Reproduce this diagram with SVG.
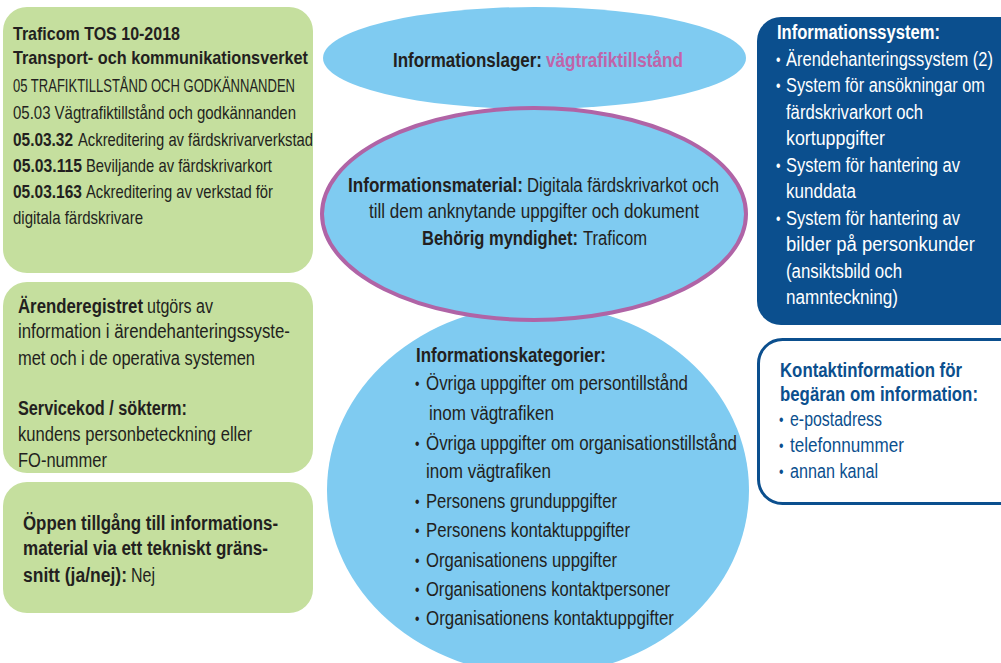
<svg xmlns="http://www.w3.org/2000/svg" width="1001" height="663" viewBox="0 0 1001 663">
<style>
text{font-family:"Liberation Sans",Arial,sans-serif;fill:#231f20}
.s{font-size:18px}
.m{font-size:20px}
.b{font-weight:bold}
.w{fill:#ffffff}
.db{fill:#0b4f8e}
.pk{fill:#c064a9}
.green{fill:#c5df9e}
.blue{fill:#7fcbf1}
.bul{font-size:16px}
</style>
<rect width="1001" height="663" fill="#ffffff"/>
<g id="connectors"></g>

<g id="tos">
<rect class="green" x="3" y="7" width="310" height="266" rx="24"/>
<g transform="scale(0.8 1)">
<text class="s b" x="16.25" y="40" textLength="208.75" lengthAdjust="spacingAndGlyphs">Traficom TOS 10-2018</text>
<text class="s b" x="16.25" y="64" textLength="368.75" lengthAdjust="spacingAndGlyphs">Transport- och kommunikationsverket</text>
<text class="s" x="16.25" y="92" textLength="352.5" lengthAdjust="spacingAndGlyphs">05 TRAFIKTILLSTÅND OCH GODKÄNNANDEN</text>
<text class="s" x="16.25" y="119" textLength="353.75" lengthAdjust="spacingAndGlyphs">05.03 Vägtrafiktillstånd och godkännanden</text>
<text class="s b" x="16.25" y="146" textLength="75" lengthAdjust="spacingAndGlyphs">05.03.32</text>
<text class="s" x="97.5" y="146" textLength="293.75" lengthAdjust="spacingAndGlyphs">Ackreditering av färdskrivarverkstad</text>
<text class="s b" x="16.25" y="172" textLength="86.25" lengthAdjust="spacingAndGlyphs">05.03.115</text>
<text class="s" x="107.5" y="172" textLength="232.5" lengthAdjust="spacingAndGlyphs">Beviljande av färdskrivarkort</text>
<text class="s b" x="16.25" y="198" textLength="86.25" lengthAdjust="spacingAndGlyphs">05.03.163</text>
<text class="s" x="107.5" y="198" textLength="233.75" lengthAdjust="spacingAndGlyphs">Ackreditering av verkstad för</text>
<text class="s" x="16.25" y="224" textLength="162.5" lengthAdjust="spacingAndGlyphs">digitala färdskrivare</text>
</g>
</g>

<g id="arenderegister">
<rect class="green" x="3" y="282" width="310" height="191" rx="24"/>
<g transform="scale(0.8 1)">
<text class="m b" x="22.5" y="313" textLength="156.25" lengthAdjust="spacingAndGlyphs">Ärenderegistret</text>
<text class="m" x="183.75" y="313" textLength="82.5" lengthAdjust="spacingAndGlyphs">utgörs av</text>
<text class="m" x="22.5" y="338" textLength="340" lengthAdjust="spacingAndGlyphs">information i ärendehanteringssyste-</text>
<text class="m" x="22.5" y="365" textLength="296.25" lengthAdjust="spacingAndGlyphs">met och i de operativa systemen</text>
<text class="m b" x="22.5" y="415" textLength="211.25" lengthAdjust="spacingAndGlyphs">Servicekod / sökterm:</text>
<text class="m" x="22.5" y="441" textLength="292.5" lengthAdjust="spacingAndGlyphs">kundens personbeteckning eller</text>
<text class="m" x="22.5" y="467" textLength="111.25" lengthAdjust="spacingAndGlyphs">FO-nummer</text>
</g>
</g>

<g id="oppen">
<rect class="green" x="3" y="482" width="310" height="131" rx="24"/>
<g transform="scale(0.8 1)">
<text class="m b" x="28.75" y="530" textLength="318.75" lengthAdjust="spacingAndGlyphs">Öppen tillgång till informations-</text>
<text class="m b" x="28.75" y="555" textLength="306.25" lengthAdjust="spacingAndGlyphs">material via ett tekniskt gräns-</text>
<text class="m b" x="28.75" y="582" textLength="130" lengthAdjust="spacingAndGlyphs">snitt (ja/nej):</text>
<text class="m" x="163.75" y="582" textLength="30" lengthAdjust="spacingAndGlyphs">Nej</text>
</g>
</g>

<g id="informationslager">
<ellipse class="blue" cx="534.5" cy="58" rx="211.5" ry="51"/>
<g transform="scale(0.8 1)">
<text class="m b" x="491.25" y="67" textLength="186.25" lengthAdjust="spacingAndGlyphs">Informationslager:</text>
<text class="m b pk" x="682.5" y="67" textLength="171.25" lengthAdjust="spacingAndGlyphs">vägtrafiktillstånd</text>
</g>
</g>

<g id="kategorier">
<ellipse class="blue" cx="538" cy="490" rx="211" ry="185"/>
<g transform="scale(0.8 1)">
<text class="m b" x="520" y="362" textLength="237.5" lengthAdjust="spacingAndGlyphs">Informationskategorier:</text>
<text class="bul" x="518.75" y="389">•</text>
<text class="m" x="532.5" y="390" textLength="327.5" lengthAdjust="spacingAndGlyphs">Övriga uppgifter om persontillstånd</text>
<text class="m" x="536.25" y="420" textLength="156.25" lengthAdjust="spacingAndGlyphs">inom vägtrafiken</text>
<text class="bul" x="518.75" y="449">•</text>
<text class="m" x="532.5" y="450" textLength="388.75" lengthAdjust="spacingAndGlyphs">Övriga uppgifter om organisationstillstånd</text>
<text class="m" x="532.5" y="478" textLength="156.25" lengthAdjust="spacingAndGlyphs">inom vägtrafiken</text>
<text class="bul" x="518.75" y="507">•</text>
<text class="m" x="532.5" y="508" textLength="238.75" lengthAdjust="spacingAndGlyphs">Personens grunduppgifter</text>
<text class="bul" x="518.75" y="536">•</text>
<text class="m" x="532.5" y="537" textLength="255" lengthAdjust="spacingAndGlyphs">Personens kontaktuppgifter</text>
<text class="bul" x="518.75" y="566">•</text>
<text class="m" x="532.5" y="567" textLength="238.75" lengthAdjust="spacingAndGlyphs">Organisationens uppgifter</text>
<text class="bul" x="518.75" y="595">•</text>
<text class="m" x="532.5" y="596" textLength="305" lengthAdjust="spacingAndGlyphs">Organisationens kontaktpersoner</text>
<text class="bul" x="518.75" y="624">•</text>
<text class="m" x="532.5" y="625" textLength="310" lengthAdjust="spacingAndGlyphs">Organisationens kontaktuppgifter</text>
</g>
</g>

<g id="informationsmaterial">
<ellipse class="blue" cx="534" cy="214" rx="212" ry="106" stroke="#b064a6" stroke-width="4"/>
<g transform="scale(0.8 1)">
<text class="m b" x="435" y="192" textLength="218.75" lengthAdjust="spacingAndGlyphs">Informationsmaterial:</text>
<text class="m" x="658.75" y="192" textLength="240" lengthAdjust="spacingAndGlyphs">Digitala färdskrivarkot och</text>
<text class="m" x="461.25" y="218" textLength="412.5" lengthAdjust="spacingAndGlyphs">till dem anknytande uppgifter och dokument</text>
<text class="m b" x="527.5" y="245" textLength="195" lengthAdjust="spacingAndGlyphs">Behörig myndighet:</text>
<text class="m" x="728.75" y="245" textLength="80" lengthAdjust="spacingAndGlyphs">Traficom</text>
</g>
</g>

<g id="informationssystem">
<rect x="757" y="17" width="270" height="308" rx="24" fill="#0b4f8e"/>
<g transform="scale(0.8 1)">
<text class="m b w" x="971.25" y="39.5" textLength="203.75" lengthAdjust="spacingAndGlyphs">Informationssystem:</text>
<text class="bul w" x="970" y="65">•</text>
<text class="m w" x="982.5" y="66" textLength="258.75" lengthAdjust="spacingAndGlyphs">Ärendehanteringssystem (2)</text>
<text class="bul w" x="970" y="91.5">•</text>
<text class="m w" x="982.5" y="92.5" textLength="248.75" lengthAdjust="spacingAndGlyphs">System för ansökningar om</text>
<text class="m w" x="982.5" y="119" textLength="171.25" lengthAdjust="spacingAndGlyphs">färdskrivarkort och</text>
<text class="m w" x="982.5" y="145.5" textLength="123.75" lengthAdjust="spacingAndGlyphs">kortuppgifter</text>
<text class="bul w" x="970" y="171">•</text>
<text class="m w" x="982.5" y="172" textLength="217.5" lengthAdjust="spacingAndGlyphs">System för hantering av</text>
<text class="m w" x="982.5" y="198.5" textLength="87.5" lengthAdjust="spacingAndGlyphs">kunddata</text>
<text class="bul w" x="970" y="224">•</text>
<text class="m w" x="982.5" y="225" textLength="217.5" lengthAdjust="spacingAndGlyphs">System för hantering av</text>
<text class="m w" x="982.5" y="251.5" textLength="236.25" lengthAdjust="spacingAndGlyphs">bilder på personkunder</text>
<text class="m w" x="982.5" y="278" textLength="145" lengthAdjust="spacingAndGlyphs">(ansiktsbild och</text>
<text class="m w" x="982.5" y="304.5" textLength="140" lengthAdjust="spacingAndGlyphs">namnteckning)</text>
</g>
</g>

<g id="kontaktinformation">
<rect x="758.5" y="339.5" width="270" height="164" rx="24" fill="#ffffff" stroke="#0b4f8e" stroke-width="3"/>
<g transform="scale(0.8 1)">
<text class="m b db" x="975" y="377" textLength="227.5" lengthAdjust="spacingAndGlyphs">Kontaktinformation för</text>
<text class="m b db" x="975" y="401" textLength="247.5" lengthAdjust="spacingAndGlyphs">begäran om information:</text>
<text class="bul db" x="973.75" y="425">•</text>
<text class="m db" x="987.5" y="426" textLength="115" lengthAdjust="spacingAndGlyphs">e-postadress</text>
<text class="bul db" x="973.75" y="451">•</text>
<text class="m db" x="987.5" y="452" textLength="142.5" lengthAdjust="spacingAndGlyphs">telefonnummer</text>
<text class="bul db" x="973.75" y="477">•</text>
<text class="m db" x="987.5" y="478" textLength="110" lengthAdjust="spacingAndGlyphs">annan kanal</text>
</g>
</g>
</svg>
